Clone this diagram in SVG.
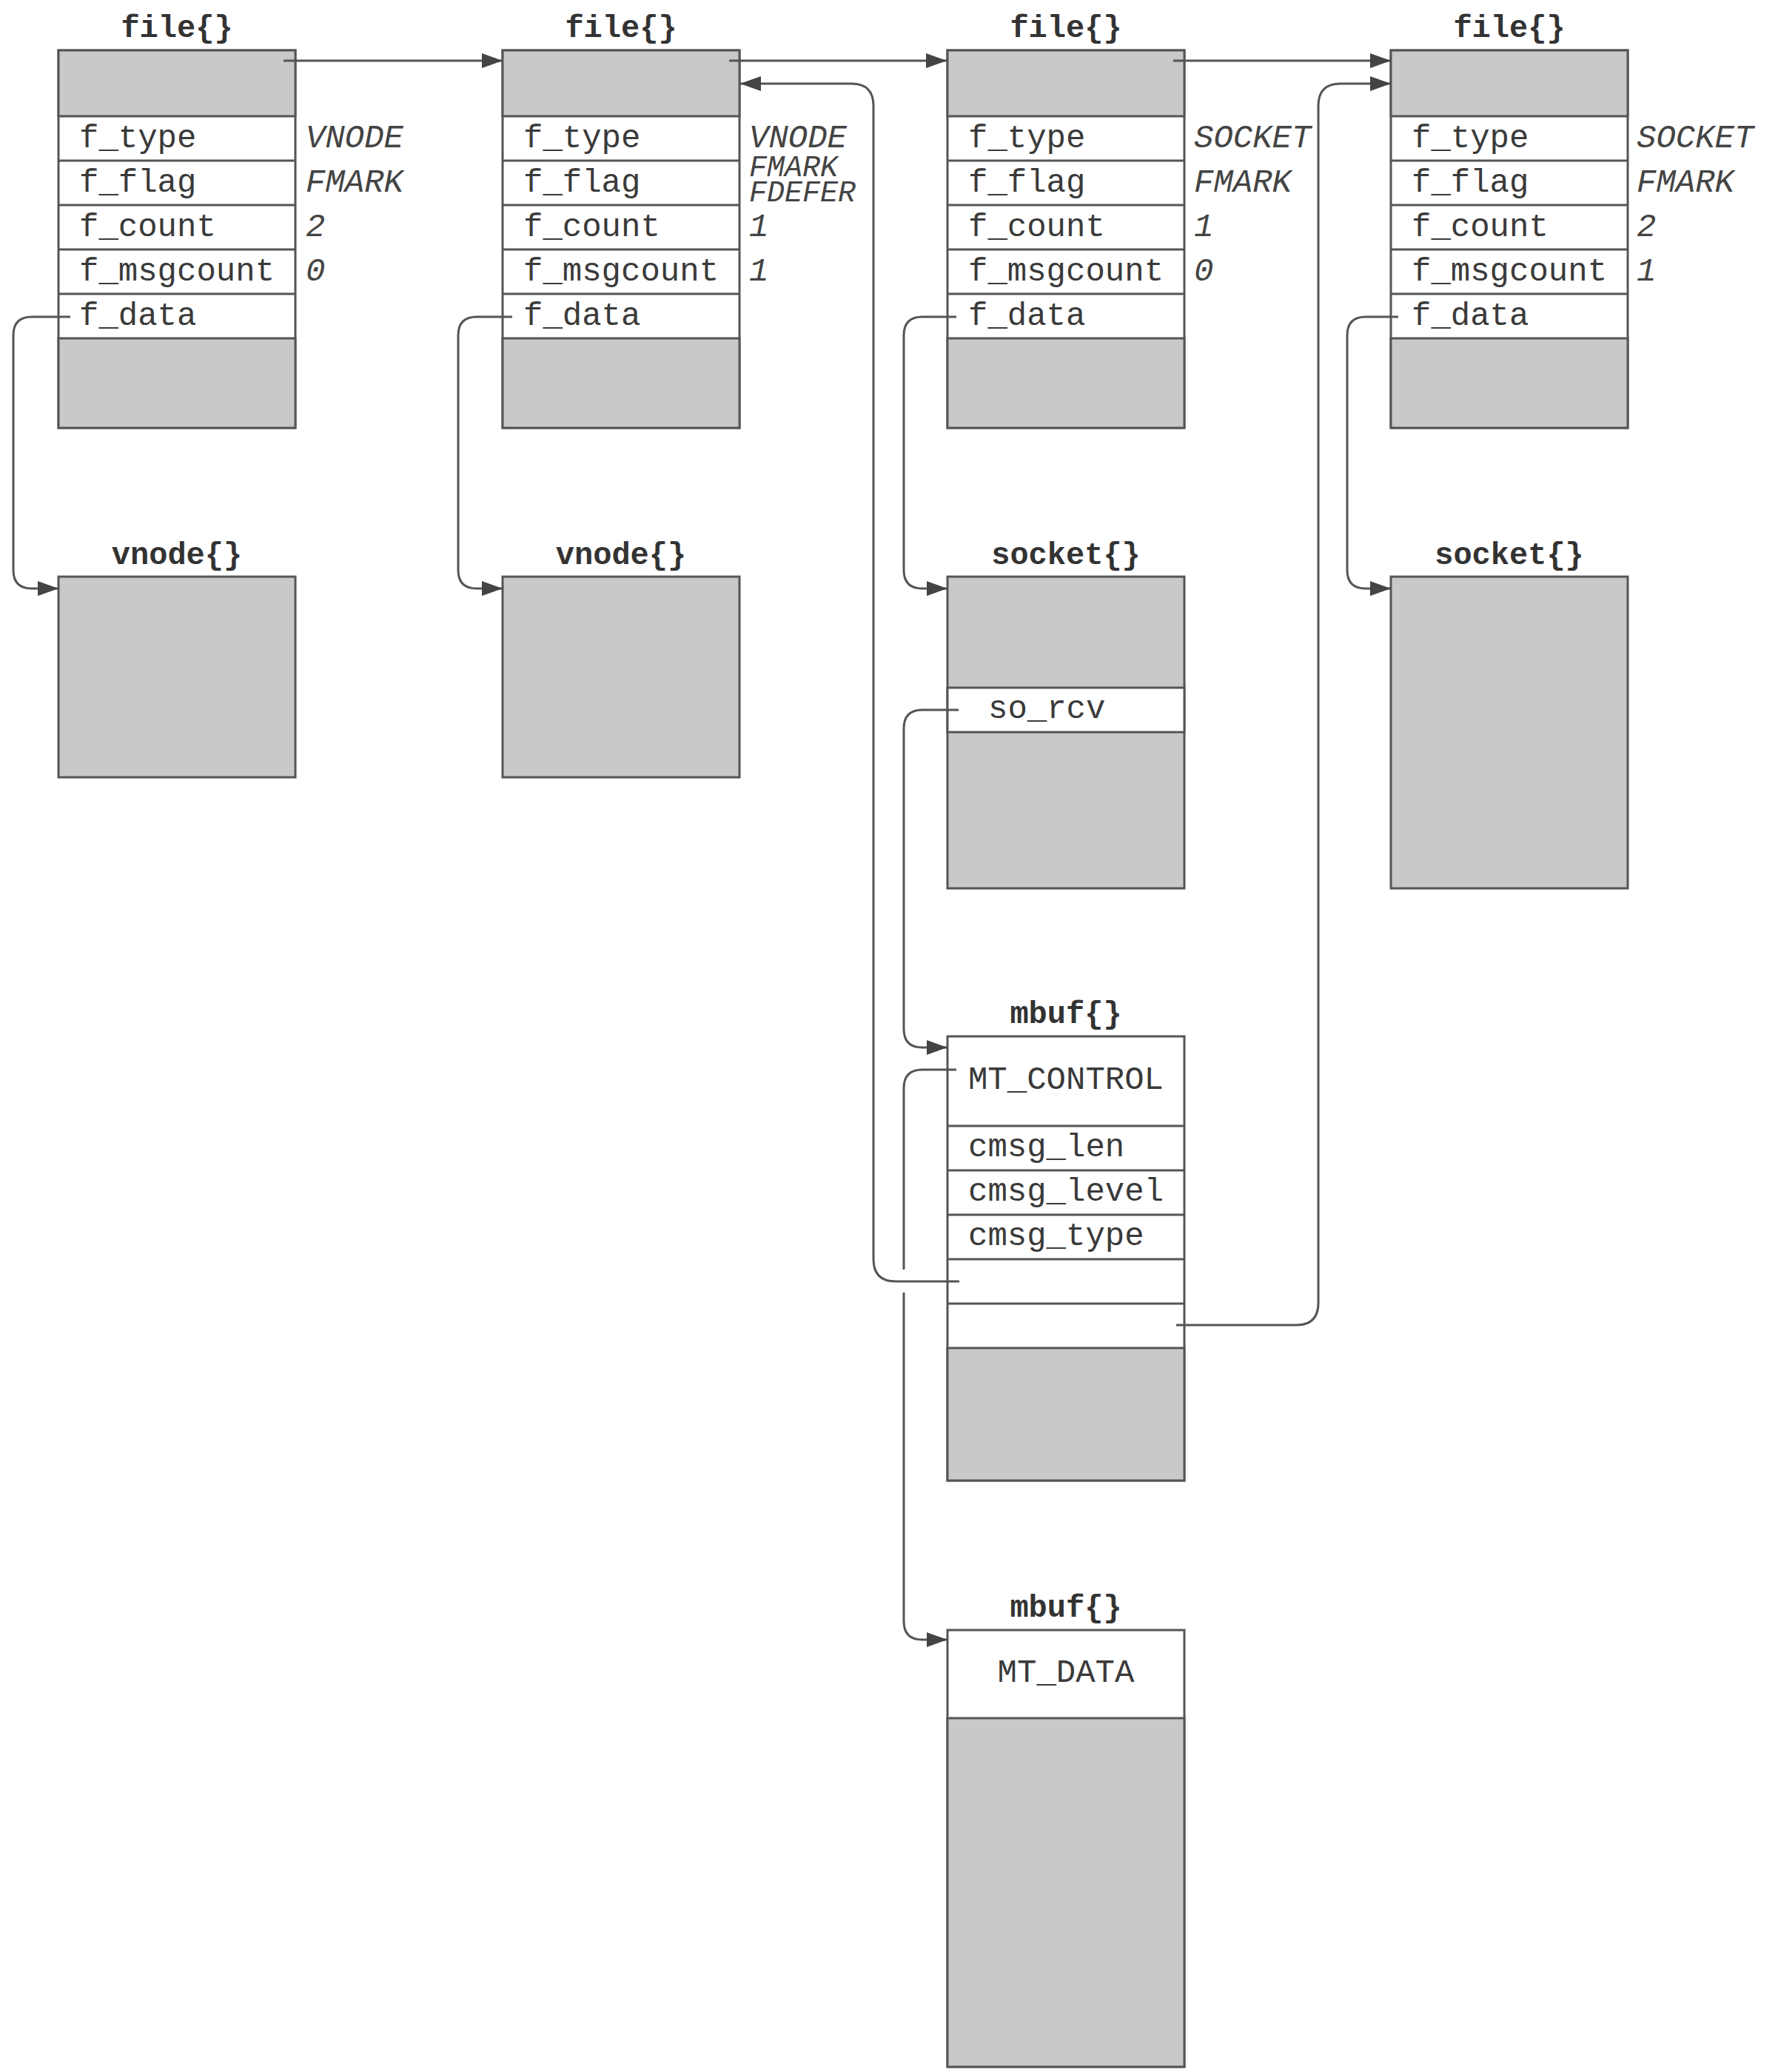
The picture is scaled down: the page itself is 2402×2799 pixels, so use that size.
<svg xmlns="http://www.w3.org/2000/svg" width="2402" height="2799" viewBox="0 0 2402 2799">
<style>
.box{fill:#ffffff;stroke:#555;stroke-width:3}
.sh{fill:#c9c9c9;stroke:#555;stroke-width:3}
.div{stroke:#555;stroke-width:3}
.t{font-family:"Liberation Mono","Courier New",monospace;font-size:44px;fill:#3a3a3a}
.ttl{font-family:"Liberation Mono","Courier New",monospace;font-size:42px;font-weight:bold;fill:#333;text-anchor:middle}
.v{font-family:"Liberation Mono","Courier New",monospace;font-size:44px;font-style:italic;fill:#444}
.vs{font-size:40px}
.c{fill:none;stroke:#555;stroke-width:3}
.m{text-anchor:middle}
</style>
<defs>
<marker id="ah" markerWidth="28" markerHeight="20" refX="28" refY="10" orient="auto" markerUnits="userSpaceOnUse">
<path d="M0,0 L28,10 L0,20 z" fill="#444"/>
</marker>
</defs>
<rect width="2402" height="2799" fill="#ffffff"/>

<g id="file1">
<text class="ttl" x="239" y="50">file{}</text>
<rect class="box" x="79" y="68" width="320" height="510"/>
<rect class="sh" x="79" y="68" width="320" height="89"/>
<rect class="sh" x="79" y="457" width="320" height="121"/>
<line class="div" x1="79" y1="217" x2="399" y2="217"/>
<line class="div" x1="79" y1="277" x2="399" y2="277"/>
<line class="div" x1="79" y1="337" x2="399" y2="337"/>
<line class="div" x1="79" y1="397" x2="399" y2="397"/>
<text class="t" x="107" y="199">f_type</text>
<text class="t" x="107" y="259">f_flag</text>
<text class="t" x="107" y="319">f_count</text>
<text class="t" x="107" y="379">f_msgcount</text>
<text class="t" x="107" y="439">f_data</text>
<text class="v" x="413" y="199">VNODE</text>
<text class="v" x="413" y="259">FMARK</text>
<text class="v" x="413" y="319">2</text>
<text class="v" x="413" y="379">0</text>
</g>

<g id="file2">
<text class="ttl" x="839" y="50">file{}</text>
<rect class="box" x="679" y="68" width="320" height="510"/>
<rect class="sh" x="679" y="68" width="320" height="89"/>
<rect class="sh" x="679" y="457" width="320" height="121"/>
<line class="div" x1="679" y1="217" x2="999" y2="217"/>
<line class="div" x1="679" y1="277" x2="999" y2="277"/>
<line class="div" x1="679" y1="337" x2="999" y2="337"/>
<line class="div" x1="679" y1="397" x2="999" y2="397"/>
<text class="t" x="707" y="199">f_type</text>
<text class="t" x="707" y="259">f_flag</text>
<text class="t" x="707" y="319">f_count</text>
<text class="t" x="707" y="379">f_msgcount</text>
<text class="t" x="707" y="439">f_data</text>
<text class="v" x="1012" y="199">VNODE</text>
<text class="v vs" x="1012" y="238">FMARK</text>
<text class="v vs" x="1012" y="272">FDEFER</text>
<text class="v" x="1012" y="319">1</text>
<text class="v" x="1012" y="379">1</text>
</g>

<g id="file3">
<text class="ttl" x="1440" y="50">file{}</text>
<rect class="box" x="1280" y="68" width="320" height="510"/>
<rect class="sh" x="1280" y="68" width="320" height="89"/>
<rect class="sh" x="1280" y="457" width="320" height="121"/>
<line class="div" x1="1280" y1="217" x2="1600" y2="217"/>
<line class="div" x1="1280" y1="277" x2="1600" y2="277"/>
<line class="div" x1="1280" y1="337" x2="1600" y2="337"/>
<line class="div" x1="1280" y1="397" x2="1600" y2="397"/>
<text class="t" x="1308" y="199">f_type</text>
<text class="t" x="1308" y="259">f_flag</text>
<text class="t" x="1308" y="319">f_count</text>
<text class="t" x="1308" y="379">f_msgcount</text>
<text class="t" x="1308" y="439">f_data</text>
<text class="v" x="1613" y="199">SOCKET</text>
<text class="v" x="1613" y="259">FMARK</text>
<text class="v" x="1613" y="319">1</text>
<text class="v" x="1613" y="379">0</text>
</g>

<g id="file4">
<text class="ttl" x="2039" y="50">file{}</text>
<rect class="box" x="1879" y="68" width="320" height="510"/>
<rect class="sh" x="1879" y="68" width="320" height="89"/>
<rect class="sh" x="1879" y="457" width="320" height="121"/>
<line class="div" x1="1879" y1="217" x2="2199" y2="217"/>
<line class="div" x1="1879" y1="277" x2="2199" y2="277"/>
<line class="div" x1="1879" y1="337" x2="2199" y2="337"/>
<line class="div" x1="1879" y1="397" x2="2199" y2="397"/>
<text class="t" x="1907" y="199">f_type</text>
<text class="t" x="1907" y="259">f_flag</text>
<text class="t" x="1907" y="319">f_count</text>
<text class="t" x="1907" y="379">f_msgcount</text>
<text class="t" x="1907" y="439">f_data</text>
<text class="v" x="2211" y="199">SOCKET</text>
<text class="v" x="2211" y="259">FMARK</text>
<text class="v" x="2211" y="319">2</text>
<text class="v" x="2211" y="379">1</text>
</g>

<g id="vnode1">
<text class="ttl" x="239" y="762">vnode{}</text>
<rect class="sh" x="79" y="779" width="320" height="271"/>
</g>
<g id="vnode2">
<text class="ttl" x="839" y="762">vnode{}</text>
<rect class="sh" x="679" y="779" width="320" height="271"/>
</g>

<g id="socket1">
<text class="ttl" x="1440" y="762">socket{}</text>
<rect class="sh" x="1280" y="779" width="320" height="421"/>
<rect class="box" x="1280" y="929" width="320" height="60"/>
<text class="t" x="1335" y="970">so_rcv</text>
</g>
<g id="socket2">
<text class="ttl" x="2039" y="762">socket{}</text>
<rect class="sh" x="1879" y="779" width="320" height="421"/>
</g>

<g id="mbuf1">
<text class="ttl" x="1440" y="1382">mbuf{}</text>
<rect class="box" x="1280" y="1400" width="320" height="600"/>
<rect class="sh" x="1280" y="1821" width="320" height="179"/>
<line class="div" x1="1280" y1="1521" x2="1600" y2="1521"/>
<line class="div" x1="1280" y1="1581" x2="1600" y2="1581"/>
<line class="div" x1="1280" y1="1641" x2="1600" y2="1641"/>
<line class="div" x1="1280" y1="1701" x2="1600" y2="1701"/>
<line class="div" x1="1280" y1="1761" x2="1600" y2="1761"/>
<text class="t m" x="1440" y="1471">MT_CONTROL</text>
<text class="t" x="1308" y="1562">cmsg_len</text>
<text class="t" x="1308" y="1622">cmsg_level</text>
<text class="t" x="1308" y="1682">cmsg_type</text>
</g>

<g id="mbuf2">
<text class="ttl" x="1440" y="2184">mbuf{}</text>
<rect class="box" x="1280" y="2202" width="320" height="590"/>
<rect class="sh" x="1280" y="2321" width="320" height="471"/>
<text class="t m" x="1440" y="2272">MT_DATA</text>
</g>

<g id="connectors">
<path class="c" marker-end="url(#ah)" d="M383,82 H679"/>
<path class="c" marker-end="url(#ah)" d="M985,82 H1279"/>
<path class="c" marker-end="url(#ah)" d="M1585,82 H1879"/>
<path class="c" marker-end="url(#ah)" d="M1296,1731 H1210 Q1180,1731 1180,1701 V143 Q1180,113 1150,113 H1000"/>
<path class="c" marker-end="url(#ah)" d="M1589,1790 H1751 Q1781,1790 1781,1760 V143 Q1781,113 1811,113 H1879"/>
<path class="c" marker-end="url(#ah)" d="M95,428 H43 Q18,428 18,453 V770 Q18,795 43,795 H79"/>
<path class="c" marker-end="url(#ah)" d="M692,428 H644 Q619,428 619,453 V770 Q619,795 644,795 H679"/>
<path class="c" marker-end="url(#ah)" d="M1292,428 H1246 Q1221,428 1221,453 V770 Q1221,795 1246,795 H1280"/>
<path class="c" marker-end="url(#ah)" d="M1889,428 H1845 Q1820,428 1820,453 V770 Q1820,795 1845,795 H1879"/>
<path class="c" marker-end="url(#ah)" d="M1295,959 H1246 Q1221,959 1221,984 V1390 Q1221,1415 1246,1415 H1280"/>
<path class="c" d="M1292,1445 H1246 Q1221,1445 1221,1470 V1715"/>
<path class="c" marker-end="url(#ah)" d="M1221,1746 V2190 Q1221,2215 1246,2215 H1280"/>
</g>
</svg>
